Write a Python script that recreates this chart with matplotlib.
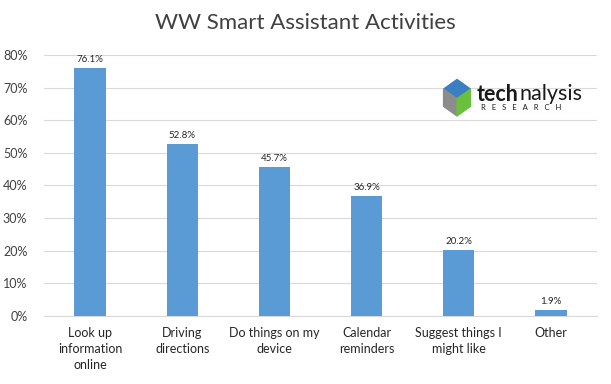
import matplotlib
matplotlib.use("Agg")
import matplotlib.pyplot as plt
from matplotlib.patches import Polygon

categories = ["Look up\ninformation\nonline", "Driving\ndirections", "Do things on my\ndevice",
              "Calendar\nreminders", "Suggest things I\nmight like", "Other"]
values = [76.1, 52.8, 45.7, 36.9, 20.2, 1.9]
yticks = [0, 10, 20, 30, 40, 50, 60, 70, 80]

plt.rcParams['font.family'] = ['Lato', 'DejaVu Sans']

fig = plt.figure(figsize=(6.11, 3.84), dpi=100)
ax = fig.add_axes([0.072, 0.177, 0.905, 0.68])
x = list(range(len(categories)))
ax.bar(x, values, width=0.34, color="#5b9bd5", zorder=3)
for xi, v in zip(x, values):
    ax.text(xi, v + 1.2, f"{v:.1f}%", ha="center", va="bottom", fontsize=7, color="#262626")
ax.set_xlim(-0.5, len(categories) - 0.5)
ax.set_ylim(0, 80)
ax.set_yticks(yticks)
ax.set_yticklabels([f"{t}%" for t in yticks], fontsize=9, color="#404040")
ax.set_xticks(x)
ax.set_xticklabels(categories, fontsize=9, color="#262626", linespacing=1.4)
ax.tick_params(length=0, pad=8)
ax.tick_params(axis="y", pad=12)
ax.yaxis.grid(True, color="#d9d9d9", linewidth=0.8, zorder=0)
for s in ["top", "right", "left"]:
    ax.spines[s].set_visible(False)
ax.spines["bottom"].set_color("#d9d9d9")

fig.text(0.5, 0.94, "WW Smart Assistant Activities", ha="center", va="center",
         fontsize=16, color="#404040")

# logo
ly = 0.755
t1 = fig.text(0.780, ly, "tech", fontsize=15.5, fontweight="bold", color="#1a1a1a",
              ha="left", va="center")
fig.canvas.draw()
bb = t1.get_window_extent(renderer=fig.canvas.get_renderer())
x2 = bb.x1 / fig.bbox.width
fig.text(x2 + 0.002, ly, "nalysis", fontsize=15.5, color="#1a1a1a", ha="left", va="center")
fig.text(0.787, ly - 0.035, "R   E   S   E   A   R   C   H", fontsize=5.5, color="#1a1a1a",
         ha="left", va="center")
cx, cy = 0.748, 0.748
s = 0.022
top = Polygon([[cx - s, cy + 0.02], [cx, cy + 0.045], [cx + s, cy + 0.02], [cx, cy - 0.005]],
              closed=True, transform=fig.transFigure, color="#3a7fc1")
left = Polygon([[cx - s, cy + 0.02], [cx, cy - 0.005], [cx, cy - 0.05], [cx - s, cy - 0.025]],
               closed=True, transform=fig.transFigure, color="#8c8c8c")
right = Polygon([[cx + s, cy + 0.02], [cx, cy - 0.005], [cx, cy - 0.05], [cx + s, cy - 0.025]],
                closed=True, transform=fig.transFigure, color="#6abf3c")
for p in (top, left, right):
    fig.patches.append(p)

fig.savefig("out.png", dpi=100)
